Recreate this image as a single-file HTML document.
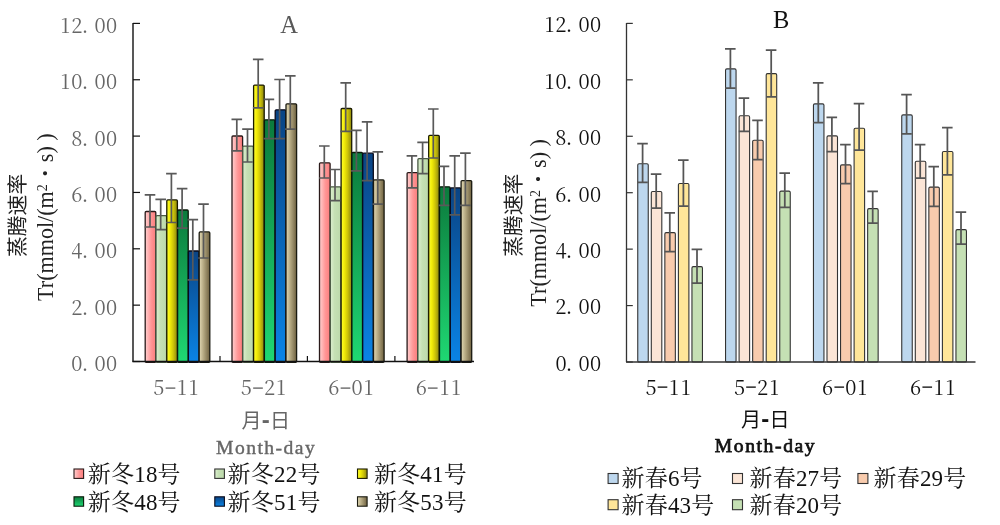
<!DOCTYPE html>
<html lang="zh">
<head>
<meta charset="utf-8">
<title>Tr chart</title>
<style>
html,body{margin:0;padding:0;background:#fff;}
body{width:1000px;height:525px;overflow:hidden;}
svg{display:block;}
.num{font-family:"Noto Serif CJK SC","Liberation Serif",serif;font-size:20px;}
.dash{font-family:"IPAGothic","Liberation Mono",monospace;font-size:24px;fill-opacity:0.8;}
.ser{font-family:"Liberation Serif","Noto Serif CJK SC",serif;}
.md{font-size:19.6px;letter-spacing:1.6px;stroke-width:0.75px;}
.hd{font-size:24px;font-weight:bold;}
.hei{font-family:"Liberation Sans","Noto Sans CJK SC",sans-serif;}
</style>
</head>
<body>
<svg width="1000" height="525" viewBox="0 0 1000 525">
<defs>
<linearGradient id="pk" x1="0" y1="0" x2="1" y2="0"><stop offset="0" stop-color="#ffd0d0"/><stop offset="0.55" stop-color="#ff9696"/><stop offset="1" stop-color="#fb7c7c"/></linearGradient>
<linearGradient id="lg" x1="0" y1="0" x2="1" y2="0"><stop offset="0" stop-color="#dcefd0"/><stop offset="0.4" stop-color="#c5e0b4"/><stop offset="1" stop-color="#bcd9ab"/></linearGradient>
<linearGradient id="yl" x1="0" y1="0" x2="1" y2="0"><stop offset="0" stop-color="#ffff30"/><stop offset="0.3" stop-color="#f2ec08"/><stop offset="0.6" stop-color="#cfc608"/><stop offset="1" stop-color="#8a8410"/></linearGradient>
<linearGradient id="gr" x1="0" y1="0" x2="0" y2="1"><stop offset="0" stop-color="#0b7a3c"/><stop offset="1" stop-color="#1fd873"/></linearGradient>
<linearGradient id="bl" x1="0" y1="0" x2="0" y2="1"><stop offset="0" stop-color="#0a4484"/><stop offset="1" stop-color="#0a84e6"/></linearGradient>
<linearGradient id="tn" x1="0" y1="0" x2="1" y2="0"><stop offset="0" stop-color="#e2d9b4"/><stop offset="0.4" stop-color="#b5a982"/><stop offset="1" stop-color="#6e6140"/></linearGradient>
</defs>
<rect width="1000" height="525" fill="#fff"/>

<g id="chartA">
<rect x="145.20" y="211.50" width="10.60" height="150.80" rx="1" fill="url(#pk)" stroke="#2a1a1a" stroke-width="1.3"/>
<rect x="156.00" y="215.70" width="10.60" height="146.60" rx="1" fill="url(#lg)" stroke="#4a5a44" stroke-width="1.3"/>
<rect x="166.80" y="199.90" width="10.60" height="162.40" rx="1" fill="url(#yl)" stroke="#1a1a00" stroke-width="1.3"/>
<rect x="177.60" y="210.00" width="10.60" height="152.30" rx="1" fill="url(#gr)" stroke="#0a1a0a" stroke-width="1.3"/>
<rect x="188.40" y="251.00" width="10.60" height="111.30" rx="1" fill="url(#bl)" stroke="#0a0a1a" stroke-width="1.3"/>
<rect x="199.20" y="231.90" width="10.60" height="130.40" rx="1" fill="url(#tn)" stroke="#1a1a10" stroke-width="1.3"/>
<rect x="232.00" y="136.00" width="10.60" height="226.30" rx="1" fill="url(#pk)" stroke="#2a1a1a" stroke-width="1.3"/>
<rect x="242.80" y="146.10" width="10.60" height="216.20" rx="1" fill="url(#lg)" stroke="#4a5a44" stroke-width="1.3"/>
<rect x="253.60" y="85.10" width="10.60" height="277.20" rx="1" fill="url(#yl)" stroke="#1a1a00" stroke-width="1.3"/>
<rect x="264.40" y="119.80" width="10.60" height="242.50" rx="1" fill="url(#gr)" stroke="#0a1a0a" stroke-width="1.3"/>
<rect x="275.20" y="109.80" width="10.60" height="252.50" rx="1" fill="url(#bl)" stroke="#0a0a1a" stroke-width="1.3"/>
<rect x="286.00" y="103.80" width="10.60" height="258.50" rx="1" fill="url(#tn)" stroke="#1a1a10" stroke-width="1.3"/>
<rect x="319.50" y="162.80" width="10.60" height="199.50" rx="1" fill="url(#pk)" stroke="#2a1a1a" stroke-width="1.3"/>
<rect x="330.30" y="186.80" width="10.60" height="175.50" rx="1" fill="url(#lg)" stroke="#4a5a44" stroke-width="1.3"/>
<rect x="341.10" y="108.50" width="10.60" height="253.80" rx="1" fill="url(#yl)" stroke="#1a1a00" stroke-width="1.3"/>
<rect x="351.90" y="152.50" width="10.60" height="209.80" rx="1" fill="url(#gr)" stroke="#0a1a0a" stroke-width="1.3"/>
<rect x="362.70" y="153.20" width="10.60" height="209.10" rx="1" fill="url(#bl)" stroke="#0a0a1a" stroke-width="1.3"/>
<rect x="373.50" y="179.90" width="10.60" height="182.40" rx="1" fill="url(#tn)" stroke="#1a1a10" stroke-width="1.3"/>
<rect x="407.10" y="172.60" width="10.60" height="189.70" rx="1" fill="url(#pk)" stroke="#2a1a1a" stroke-width="1.3"/>
<rect x="417.90" y="158.70" width="10.60" height="203.60" rx="1" fill="url(#lg)" stroke="#4a5a44" stroke-width="1.3"/>
<rect x="428.70" y="135.40" width="10.60" height="226.90" rx="1" fill="url(#yl)" stroke="#1a1a00" stroke-width="1.3"/>
<rect x="439.50" y="186.80" width="10.60" height="175.50" rx="1" fill="url(#gr)" stroke="#0a1a0a" stroke-width="1.3"/>
<rect x="450.30" y="187.90" width="10.60" height="174.40" rx="1" fill="url(#bl)" stroke="#0a0a1a" stroke-width="1.3"/>
<rect x="461.10" y="180.60" width="10.60" height="181.70" rx="1" fill="url(#tn)" stroke="#1a1a10" stroke-width="1.3"/>
<path d="M150.00 194.90V227.00M144.70 194.90H155.30M144.70 227.00H155.30" stroke="#595959" stroke-width="1.7" fill="none"/>
<path d="M160.70 199.40V229.70M155.40 199.40H166.00M155.40 229.70H166.00" stroke="#595959" stroke-width="1.7" fill="none"/>
<path d="M171.40 173.70V222.50M166.10 173.70H176.70M166.10 222.50H176.70" stroke="#595959" stroke-width="1.7" fill="none"/>
<path d="M182.10 188.60V228.20M176.80 188.60H187.40M176.80 228.20H187.40" stroke="#595959" stroke-width="1.7" fill="none"/>
<path d="M192.80 219.60V279.90M187.50 219.60H198.10M187.50 279.90H198.10" stroke="#595959" stroke-width="1.7" fill="none"/>
<path d="M203.50 204.20V258.00M198.20 204.20H208.80M198.20 258.00H208.80" stroke="#595959" stroke-width="1.7" fill="none"/>
<path d="M236.80 119.30V150.90M231.50 119.30H242.10M231.50 150.90H242.10" stroke="#595959" stroke-width="1.7" fill="none"/>
<path d="M247.50 129.10V162.00M242.20 129.10H252.80M242.20 162.00H252.80" stroke="#595959" stroke-width="1.7" fill="none"/>
<path d="M258.20 59.40V107.90M252.90 59.40H263.50M252.90 107.90H263.50" stroke="#595959" stroke-width="1.7" fill="none"/>
<path d="M268.90 99.40V138.70M263.60 99.40H274.20M263.60 138.70H274.20" stroke="#595959" stroke-width="1.7" fill="none"/>
<path d="M279.60 79.50V138.70M274.30 79.50H284.90M274.30 138.70H284.90" stroke="#595959" stroke-width="1.7" fill="none"/>
<path d="M290.30 75.90V129.10M285.00 75.90H295.60M285.00 129.10H295.60" stroke="#595959" stroke-width="1.7" fill="none"/>
<path d="M324.30 146.00V178.00M319.00 146.00H329.60M319.00 178.00H329.60" stroke="#595959" stroke-width="1.7" fill="none"/>
<path d="M335.00 169.50V200.70M329.70 169.50H340.30M329.70 200.70H340.30" stroke="#595959" stroke-width="1.7" fill="none"/>
<path d="M345.70 82.90V131.40M340.40 82.90H351.00M340.40 131.40H351.00" stroke="#595959" stroke-width="1.7" fill="none"/>
<path d="M356.40 130.30V170.80M351.10 130.30H361.70M351.10 170.80H361.70" stroke="#595959" stroke-width="1.7" fill="none"/>
<path d="M367.10 121.80V180.60M361.80 121.80H372.40M361.80 180.60H372.40" stroke="#595959" stroke-width="1.7" fill="none"/>
<path d="M377.80 151.80V204.10M372.50 151.80H383.10M372.50 204.10H383.10" stroke="#595959" stroke-width="1.7" fill="none"/>
<path d="M411.90 155.90V187.90M406.60 155.90H417.20M406.60 187.90H417.20" stroke="#595959" stroke-width="1.7" fill="none"/>
<path d="M422.60 142.40V173.70M417.30 142.40H427.90M417.30 173.70H427.90" stroke="#595959" stroke-width="1.7" fill="none"/>
<path d="M433.30 109.00V158.00M428.00 109.00H438.60M428.00 158.00H438.60" stroke="#595959" stroke-width="1.7" fill="none"/>
<path d="M444.00 166.40V205.30M438.70 166.40H449.30M438.70 205.30H449.30" stroke="#595959" stroke-width="1.7" fill="none"/>
<path d="M454.70 155.90V214.90M449.40 155.90H460.00M449.40 214.90H460.00" stroke="#595959" stroke-width="1.7" fill="none"/>
<path d="M465.40 153.10V205.30M460.10 153.10H470.70M460.10 205.30H470.70" stroke="#595959" stroke-width="1.7" fill="none"/>
<path d="M133.0 22.9V361.5" stroke="#111" stroke-width="1.4" fill="none"/>
<path d="M132.3 361.5H474.0" stroke="#111" stroke-width="1.4" fill="none"/>
<path d="M133.0 23.40h7" stroke="#111" stroke-width="1.2" fill="none"/>
<path d="M133.0 79.75h7" stroke="#111" stroke-width="1.2" fill="none"/>
<path d="M133.0 136.10h7" stroke="#111" stroke-width="1.2" fill="none"/>
<path d="M133.0 192.45h7" stroke="#111" stroke-width="1.2" fill="none"/>
<path d="M133.0 248.80h7" stroke="#111" stroke-width="1.2" fill="none"/>
<path d="M133.0 305.15h7" stroke="#111" stroke-width="1.2" fill="none"/>
<path d="M133.0 361.50h7" stroke="#111" stroke-width="1.2" fill="none"/>
<path d="M220.0 361.5v-5.5" stroke="#111" stroke-width="1.2" fill="none"/>
<path d="M307.4 361.5v-5.5" stroke="#111" stroke-width="1.2" fill="none"/>
<path d="M394.9 361.5v-5.5" stroke="#111" stroke-width="1.2" fill="none"/>
<text class="num" x="65.30 76.85 85.00 99.95 111.50" y="32.80" text-anchor="middle" fill="#666">12.00</text>
<text class="num" x="65.30 76.85 85.00 99.95 111.50" y="89.15" text-anchor="middle" fill="#666">10.00</text>
<text class="num" x="76.85 85.00 99.95 111.50" y="145.50" text-anchor="middle" fill="#666">8.00</text>
<text class="num" x="76.85 85.00 99.95 111.50" y="201.85" text-anchor="middle" fill="#666">6.00</text>
<text class="num" x="76.85 85.00 99.95 111.50" y="258.20" text-anchor="middle" fill="#666">4.00</text>
<text class="num" x="76.85 85.00 99.95 111.50" y="314.55" text-anchor="middle" fill="#666">2.00</text>
<text class="num" x="76.85 85.00 99.95 111.50" y="370.90" text-anchor="middle" fill="#666">0.00</text>
<text class="num" x="158.87 170.42 181.97 193.52" y="395.30" text-anchor="middle" fill="#666">5<tspan class="dash" dy="1.4">-</tspan><tspan dy="-1.4">11</tspan></text>
<text class="num" x="246.37 257.92 269.47 281.02" y="395.30" text-anchor="middle" fill="#666">5<tspan class="dash" dy="1.4">-</tspan><tspan dy="-1.4">21</tspan></text>
<text class="num" x="333.88 345.42 356.97 368.52" y="395.30" text-anchor="middle" fill="#666">6<tspan class="dash" dy="1.4">-</tspan><tspan dy="-1.4">01</tspan></text>
<text class="num" x="421.27 432.82 444.38 455.93" y="395.30" text-anchor="middle" fill="#666">6<tspan class="dash" dy="1.4">-</tspan><tspan dy="-1.4">11</tspan></text>
<text class="ser" x="289" y="32.6" text-anchor="middle" font-size="24.5" fill="#595959">A</text>
<text class="hei" x="241.6 261.7 269.9" y="428.3" font-size="20" fill="#666">月<tspan class="hd">-</tspan>日</text>
<text class="ser md" x="266.1" y="454.3" text-anchor="middle" fill="#666" stroke="#666" style="stroke-width:0.4px;letter-spacing:1.45px">Month-day</text>
<text class="hei" transform="translate(24.8,257) rotate(-90)" font-size="20.8" fill="#222">蒸腾速率</text>
<text class="ser" transform="translate(52.9,300.9) rotate(-90)" font-size="22.1" fill="#222">Tr(mmol/(m<tspan font-size="14" dy="-6.4">2</tspan><tspan dy="6.4">・s) )</tspan></text>
<rect x="74.0" y="469.0" width="9.6" height="9.4" fill="url(#pk)" stroke="#2a1a1a" stroke-width="1.1"/>
<text class="ser" x="87.8" y="481.7" font-size="23" letter-spacing="0.2" fill="#111">新冬18号</text>
<rect x="214.8" y="469.0" width="9.6" height="9.4" fill="url(#lg)" stroke="#333" stroke-width="1.1"/>
<text class="ser" x="227.6" y="481.7" font-size="23" letter-spacing="0.2" fill="#111">新冬22号</text>
<rect x="357.5" y="469.0" width="9.6" height="9.4" fill="url(#yl)" stroke="#1a1a00" stroke-width="1.1"/>
<text class="ser" x="373.9" y="481.7" font-size="23" letter-spacing="0.2" fill="#111">新冬41号</text>
<rect x="74.0" y="496.8" width="9.6" height="9.4" fill="url(#gr)" stroke="#0a1a0a" stroke-width="1.1"/>
<text class="ser" x="87.8" y="509.5" font-size="23" letter-spacing="0.2" fill="#111">新冬48号</text>
<rect x="214.8" y="496.8" width="9.6" height="9.4" fill="url(#bl)" stroke="#0a0a1a" stroke-width="1.1"/>
<text class="ser" x="227.6" y="509.5" font-size="23" letter-spacing="0.2" fill="#111">新冬51号</text>
<rect x="357.5" y="496.8" width="9.6" height="9.4" fill="url(#tn)" stroke="#1a1a10" stroke-width="1.1"/>
<text class="ser" x="373.9" y="509.5" font-size="23" letter-spacing="0.2" fill="#111">新冬53号</text>
</g>
<g id="chartB">
<rect x="637.75" y="163.70" width="10.50" height="198.30" rx="1.3" fill="#bdd7ee" stroke="#333" stroke-width="1.1"/>
<rect x="651.30" y="191.50" width="10.50" height="170.50" rx="1.3" fill="#fbe5d6" stroke="#333" stroke-width="1.1"/>
<rect x="664.85" y="232.60" width="10.50" height="129.40" rx="1.3" fill="#f8cbad" stroke="#333" stroke-width="1.1"/>
<rect x="678.40" y="183.50" width="10.50" height="178.50" rx="1.3" fill="#ffe699" stroke="#333" stroke-width="1.1"/>
<rect x="691.95" y="266.60" width="10.50" height="95.40" rx="1.3" fill="#c5e0b4" stroke="#333" stroke-width="1.1"/>
<rect x="725.55" y="68.90" width="10.50" height="293.10" rx="1.3" fill="#bdd7ee" stroke="#333" stroke-width="1.1"/>
<rect x="739.10" y="115.80" width="10.50" height="246.20" rx="1.3" fill="#fbe5d6" stroke="#333" stroke-width="1.1"/>
<rect x="752.65" y="140.20" width="10.50" height="221.80" rx="1.3" fill="#f8cbad" stroke="#333" stroke-width="1.1"/>
<rect x="766.20" y="73.60" width="10.50" height="288.40" rx="1.3" fill="#ffe699" stroke="#333" stroke-width="1.1"/>
<rect x="779.75" y="191.10" width="10.50" height="170.90" rx="1.3" fill="#c5e0b4" stroke="#333" stroke-width="1.1"/>
<rect x="813.45" y="103.90" width="10.50" height="258.10" rx="1.3" fill="#bdd7ee" stroke="#333" stroke-width="1.1"/>
<rect x="827.00" y="135.90" width="10.50" height="226.10" rx="1.3" fill="#fbe5d6" stroke="#333" stroke-width="1.1"/>
<rect x="840.55" y="164.90" width="10.50" height="197.10" rx="1.3" fill="#f8cbad" stroke="#333" stroke-width="1.1"/>
<rect x="854.10" y="128.30" width="10.50" height="233.70" rx="1.3" fill="#ffe699" stroke="#333" stroke-width="1.1"/>
<rect x="867.65" y="208.60" width="10.50" height="153.40" rx="1.3" fill="#c5e0b4" stroke="#333" stroke-width="1.1"/>
<rect x="901.75" y="114.90" width="10.50" height="247.10" rx="1.3" fill="#bdd7ee" stroke="#333" stroke-width="1.1"/>
<rect x="915.30" y="161.20" width="10.50" height="200.80" rx="1.3" fill="#fbe5d6" stroke="#333" stroke-width="1.1"/>
<rect x="928.85" y="187.10" width="10.50" height="174.90" rx="1.3" fill="#f8cbad" stroke="#333" stroke-width="1.1"/>
<rect x="942.40" y="151.50" width="10.50" height="210.50" rx="1.3" fill="#ffe699" stroke="#333" stroke-width="1.1"/>
<rect x="955.95" y="229.60" width="10.50" height="132.40" rx="1.3" fill="#c5e0b4" stroke="#333" stroke-width="1.1"/>
<path d="M642.60 143.60V182.30M637.20 143.60H647.80M637.40 182.30H647.80" stroke="#555" stroke-width="1.75" fill="none"/>
<path d="M656.20 174.10V208.20M650.80 174.10H661.40M651.00 208.20H661.40" stroke="#555" stroke-width="1.75" fill="none"/>
<path d="M669.80 212.80V251.50M664.40 212.80H675.00M664.60 251.50H675.00" stroke="#555" stroke-width="1.75" fill="none"/>
<path d="M683.40 160.00V206.10M678.00 160.00H688.60M678.20 206.10H688.60" stroke="#555" stroke-width="1.75" fill="none"/>
<path d="M697.00 249.40V283.00M691.60 249.40H702.20M691.80 283.00H702.20" stroke="#555" stroke-width="1.75" fill="none"/>
<path d="M730.40 48.80V88.00M725.00 48.80H735.60M725.20 88.00H735.60" stroke="#555" stroke-width="1.75" fill="none"/>
<path d="M744.00 98.00V131.40M738.60 98.00H749.20M738.80 131.40H749.20" stroke="#555" stroke-width="1.75" fill="none"/>
<path d="M757.60 120.40V159.50M752.20 120.40H762.80M752.40 159.50H762.80" stroke="#555" stroke-width="1.75" fill="none"/>
<path d="M771.20 50.00V96.80M765.80 50.00H776.40M766.00 96.80H776.40" stroke="#555" stroke-width="1.75" fill="none"/>
<path d="M784.80 173.20V207.30M779.40 173.20H790.00M779.60 207.30H790.00" stroke="#555" stroke-width="1.75" fill="none"/>
<path d="M818.30 82.90V122.50M812.90 82.90H823.50M813.10 122.50H823.50" stroke="#555" stroke-width="1.75" fill="none"/>
<path d="M831.90 117.30V151.50M826.50 117.30H837.10M826.70 151.50H837.10" stroke="#555" stroke-width="1.75" fill="none"/>
<path d="M845.50 144.50V183.50M840.10 144.50H850.70M840.30 183.50H850.70" stroke="#555" stroke-width="1.75" fill="none"/>
<path d="M859.10 103.60V150.00M853.70 103.60H864.30M853.90 150.00H864.30" stroke="#555" stroke-width="1.75" fill="none"/>
<path d="M872.70 191.40V223.20M867.30 191.40H877.90M867.50 223.20H877.90" stroke="#555" stroke-width="1.75" fill="none"/>
<path d="M906.60 94.50V133.80M901.20 94.50H911.80M901.40 133.80H911.80" stroke="#555" stroke-width="1.75" fill="none"/>
<path d="M920.20 144.50V178.00M914.80 144.50H925.40M915.00 178.00H925.40" stroke="#555" stroke-width="1.75" fill="none"/>
<path d="M933.80 166.70V206.30M928.40 166.70H939.00M928.60 206.30H939.00" stroke="#555" stroke-width="1.75" fill="none"/>
<path d="M947.40 127.70V174.90M942.00 127.70H952.60M942.20 174.90H952.60" stroke="#555" stroke-width="1.75" fill="none"/>
<path d="M961.00 212.00V244.10M955.60 212.00H966.20M955.80 244.10H966.20" stroke="#555" stroke-width="1.75" fill="none"/>
<path d="M626.5 22.9V362.0" stroke="#333" stroke-width="1.3" fill="none"/>
<path d="M626.0 362.0H975.5" stroke="#333" stroke-width="1.3" fill="none"/>
<path d="M626.5 23.40h6.3" stroke="#333" stroke-width="1.2" fill="none"/>
<path d="M626.5 79.83h6.3" stroke="#333" stroke-width="1.2" fill="none"/>
<path d="M626.5 136.27h6.3" stroke="#333" stroke-width="1.2" fill="none"/>
<path d="M626.5 192.70h6.3" stroke="#333" stroke-width="1.2" fill="none"/>
<path d="M626.5 249.13h6.3" stroke="#333" stroke-width="1.2" fill="none"/>
<path d="M626.5 305.57h6.3" stroke="#333" stroke-width="1.2" fill="none"/>
<path d="M626.5 362.00h6.3" stroke="#333" stroke-width="1.2" fill="none"/>
<text class="num" x="549.40 560.95 569.10 584.05 595.60" y="32.30" text-anchor="middle" fill="#111">12.00</text>
<text class="num" x="549.40 560.95 569.10 584.05 595.60" y="88.73" text-anchor="middle" fill="#111">10.00</text>
<text class="num" x="560.95 569.10 584.05 595.60" y="145.17" text-anchor="middle" fill="#111">8.00</text>
<text class="num" x="560.95 569.10 584.05 595.60" y="201.60" text-anchor="middle" fill="#111">6.00</text>
<text class="num" x="560.95 569.10 584.05 595.60" y="258.03" text-anchor="middle" fill="#111">4.00</text>
<text class="num" x="560.95 569.10 584.05 595.60" y="314.47" text-anchor="middle" fill="#111">2.00</text>
<text class="num" x="560.95 569.10 584.05 595.60" y="370.90" text-anchor="middle" fill="#111">0.00</text>
<text class="num" x="650.98 662.52 674.08 685.62" y="395.00" text-anchor="middle" fill="#111">5<tspan class="dash" dy="1.4">-</tspan><tspan dy="-1.4">11</tspan></text>
<text class="num" x="739.58 751.12 762.68 774.23" y="395.00" text-anchor="middle" fill="#111">5<tspan class="dash" dy="1.4">-</tspan><tspan dy="-1.4">21</tspan></text>
<text class="num" x="827.68 839.23 850.78 862.33" y="395.00" text-anchor="middle" fill="#111">6<tspan class="dash" dy="1.4">-</tspan><tspan dy="-1.4">01</tspan></text>
<text class="num" x="915.68 927.23 938.78 950.33" y="395.00" text-anchor="middle" fill="#111">6<tspan class="dash" dy="1.4">-</tspan><tspan dy="-1.4">11</tspan></text>
<text class="ser" x="781.2" y="27.8" text-anchor="middle" font-size="24.5" fill="#111">B</text>
<text class="hei" x="741.1 761.2 769.4" y="427" font-size="20" fill="#111">月<tspan class="hd">-</tspan>日</text>
<text class="ser md" x="765.5" y="451.6" text-anchor="middle" fill="#111" stroke="#111">Month-day</text>
<text class="hei" transform="translate(520.6,256.8) rotate(-90)" font-size="20.8" fill="#222">蒸腾速率</text>
<text class="ser" transform="translate(546.3,306.7) rotate(-90)" font-size="22.1" fill="#222">Tr(mmol/(m<tspan font-size="14" dy="-6.4">2</tspan><tspan dy="6.4">・s) )</tspan></text>
<rect x="608.1" y="473.5" width="10" height="10" fill="#bdd7ee" stroke="#333" stroke-width="1.1"/>
<text class="ser" x="621.5" y="486.3" font-size="23" letter-spacing="0.2" fill="#111">新春6号</text>
<rect x="732.5" y="473.5" width="10" height="10" fill="#fbe5d6" stroke="#333" stroke-width="1.1"/>
<text class="ser" x="749.5" y="486.3" font-size="23" letter-spacing="0.2" fill="#111">新春27号</text>
<rect x="857.9" y="473.5" width="10" height="10" fill="#f8cbad" stroke="#333" stroke-width="1.1"/>
<text class="ser" x="873.5" y="486.3" font-size="23" letter-spacing="0.2" fill="#111">新春29号</text>
<rect x="608.1" y="499.7" width="10" height="10" fill="#ffe699" stroke="#333" stroke-width="1.1"/>
<text class="ser" x="621.5" y="512.5" font-size="23" letter-spacing="0.2" fill="#111">新春43号</text>
<rect x="732.5" y="499.7" width="10" height="10" fill="#c5e0b4" stroke="#333" stroke-width="1.1"/>
<text class="ser" x="749.5" y="512.5" font-size="23" letter-spacing="0.2" fill="#111">新春20号</text>
</g>
</svg>
</body>
</html>
